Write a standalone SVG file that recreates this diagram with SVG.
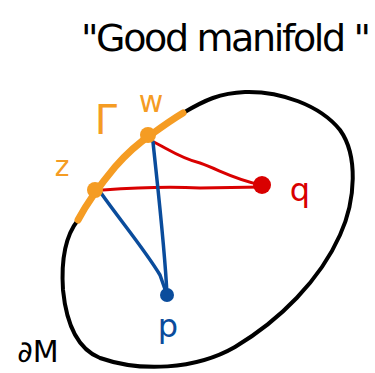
<svg xmlns="http://www.w3.org/2000/svg" width="375" height="373" viewBox="0 0 375 373">
<style>
.lbl{font-family:"DejaVu Sans","Liberation Sans",sans-serif;text-anchor:middle}
.ln{fill:none;stroke-linecap:round;stroke-linejoin:round}
</style>
<rect width="375" height="373" fill="#ffffff"/>
<text class="lbl" x="226" y="51" font-size="38" fill="#000" textLength="290" lengthAdjust="spacing">"Good manifold "</text>
<g id="boundary">
<path class="ln" d="M183,113 C205,100 220,93 245,92 C280,91 320,105 340,130 C358,155 356,200 340,235 C320,280 280,320 235,347 C195,370 140,372 100,358 C75,348 66,320 63,290 C61,260 66,235 78,220" stroke="#000" stroke-width="4"/>
<text class="lbl" x="38" y="362" font-size="30" fill="#000">∂M</text>
</g>
<g id="connectors">
<path class="ln" d="M152,141 C170,150 180,158 200,163 C220,170 235,180 262,185" stroke="#d90000" stroke-width="3"/>
<path class="ln" d="M103,190 C130,188 160,186 200,188 L262,187" stroke="#d90000" stroke-width="3"/>
<path class="ln" d="M153,142 C158,190 165,250 167,295" stroke="#0a4c9c" stroke-width="3.5"/>
<path class="ln" d="M101,193 C120,220 145,250 160,275 L167,295" stroke="#0a4c9c" stroke-width="3.5"/>
</g>
<g id="gamma">
<path class="ln" d="M78,220 C86,205 100,185 115,167 C128,152 140,142 152,134 C163,126 173,119 183,113" stroke="#f59c23" stroke-width="7"/>
<text class="lbl" x="106" y="134" font-size="40" fill="#f59c23">Γ</text>
</g>
<g id="z">
<circle cx="95" cy="190" r="8" fill="#f59c23"/>
<text class="lbl" x="62" y="176" font-size="28" fill="#f59c23">z</text>
</g>
<g id="w">
<circle cx="148" cy="135" r="8" fill="#f59c23"/>
<text class="lbl" x="151" y="112" font-size="30" fill="#f59c23">w</text>
</g>
<g id="q">
<circle cx="262" cy="185" r="9" fill="#d90000"/>
<text class="lbl" x="300" y="201" font-size="32" fill="#d90000">q</text>
</g>
<g id="p">
<circle cx="167" cy="295" r="7" fill="#0a4c9c"/>
<text class="lbl" x="168" y="337" font-size="32" fill="#0a4c9c">p</text>
</g>
</svg>
